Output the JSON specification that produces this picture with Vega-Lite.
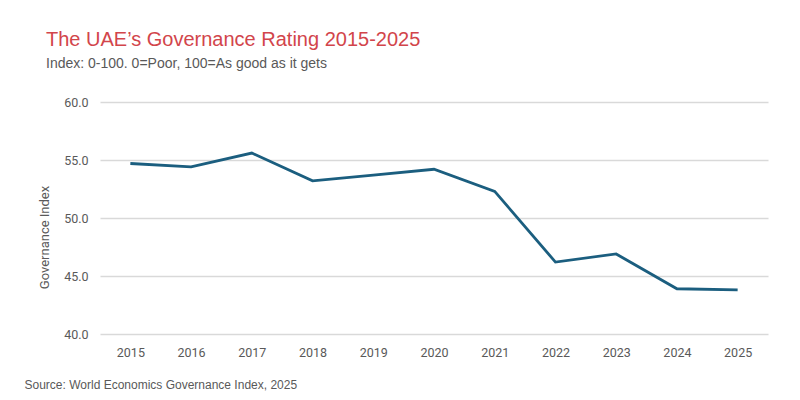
{
  "$schema": "https://vega.github.io/schema/vega-lite/v6.json",
  "autosize": {"type": "none"},
  "width": 668,
  "height": 232,
  "padding": {"left": 100, "top": 102, "right": 32, "bottom": 66},
  "background": "white",
  "title": {
    "text": "The UAE’s Governance Rating 2015-2025",
    "subtitle": "Index: 0-100. 0=Poor, 100=As good as it gets",
    "anchor": "start",
    "frame": "group",
    "dx": -54,
    "offset": 30,
    "dy": 5,
    "font": "Liberation Sans",
    "fontSize": 20,
    "fontWeight": "normal",
    "color": "#d2454b",
    "subtitleFont": "Liberation Sans",
    "subtitleFontSize": 14,
    "subtitleColor": "#595959",
    "subtitlePadding": 7
  },
  "data": {
    "values": [
      {"year": "2015", "index": 54.7},
      {"year": "2016", "index": 54.4},
      {"year": "2017", "index": 55.6},
      {"year": "2018", "index": 53.2},
      {"year": "2019", "index": 53.7},
      {"year": "2020", "index": 54.2},
      {"year": "2021", "index": 52.3},
      {"year": "2022", "index": 46.2},
      {"year": "2023", "index": 46.9},
      {"year": "2024", "index": 43.9},
      {"year": "2025", "index": 43.8}
    ]
  },
  "mark": {"type": "line", "color": "#1b5e7f", "strokeWidth": 2.8},
  "encoding": {
    "x": {
      "field": "year",
      "type": "ordinal",
      "scale": {"type": "point", "padding": 0.5},
      "axis": {
        "title": "Source: World Economics Governance Index, 2025",
        "titleFont": "Liberation Sans",
        "titleFontSize": 12,
        "titleFontWeight": "normal",
        "titleColor": "#595959",
        "titleAnchor": "start",
        "titleAlign": "left",
        "titleBaseline": "middle",
        "titleX": -76,
        "titleY": 50,
        "labelAngle": 0,
        "labelFont": "Roboto",
        "labelFontSize": 12.5,
        "labelColor": "#595959",
        "labelPadding": 12,
        "domain": false,
        "ticks": false,
        "grid": false
      }
    },
    "y": {
      "field": "index",
      "type": "quantitative",
      "scale": {"domain": [40, 60], "nice": false, "zero": false},
      "axis": {
        "title": "Governance Index",
        "titleFont": "Roboto",
        "titleFontSize": 13,
        "titleFontWeight": "normal",
        "titleColor": "#595959",
        "titleX": -56,
        "titleY": 135,
        "titleBaseline": "middle",
        "values": [40, 45, 50, 55, 60],
        "format": ".1f",
        "labelFont": "Roboto",
        "labelFontSize": 12.5,
        "labelColor": "#595959",
        "labelPadding": 12,
        "domain": false,
        "ticks": false,
        "grid": true,
        "gridColor": "#d9d9d9",
        "gridWidth": 1.5
      }
    }
  },
  "config": {"view": {"stroke": null}}
}
